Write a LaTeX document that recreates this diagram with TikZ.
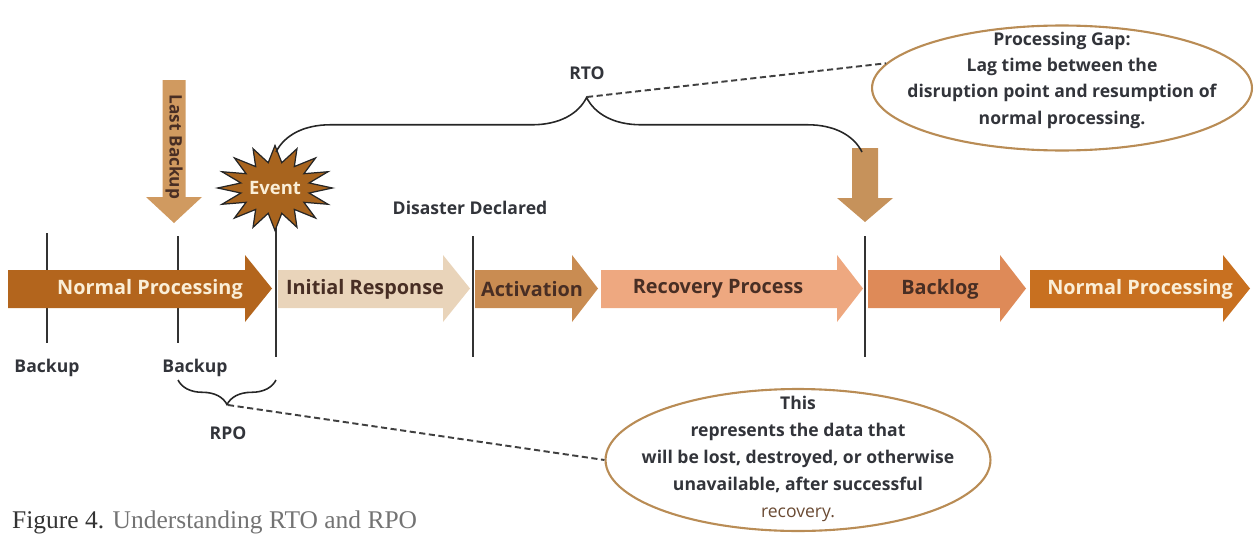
\documentclass[tikz,border=0pt]{standalone}
\usepackage{fontspec}
\setmainfont{Open Sans}
\newfontfamily\capfont{Liberation Serif}
\usetikzlibrary{shapes.geometric, decorations.pathreplacing, positioning}

\definecolor{npbrown}{RGB}{179,101,29}
\definecolor{irtan}{RGB}{233,212,186}
\definecolor{actbrown}{RGB}{201,140,82}
\definecolor{recsalmon}{RGB}{238,168,128}
\definecolor{blgorange}{RGB}{222,138,88}
\definecolor{nptwo}{RGB}{200,112,32}
\definecolor{cream}{RGB}{250,238,215}
\definecolor{darktext}{RGB}{72,46,36}
\definecolor{downtan}{RGB}{208,154,96}
\definecolor{eventbrown}{RGB}{168,100,30}
\definecolor{notering}{RGB}{185,140,85}
\definecolor{labelgray}{RGB}{50,52,58}

\begin{document}
\begin{tikzpicture}[x=0.02cm, y=-0.02cm,
    tick/.style={line width=1pt, black!80},
    phase/.style={font=\bfseries\fontsize{11.3}{13}\selectfont, text=darktext, inner sep=0pt},
    label/.style={font=\bfseries\fontsize{10}{12}\selectfont, text=labelgray, inner sep=1pt},
    ring/.style={ellipse, draw=notering, line width=1.2pt, inner sep=0pt},
    notetext/.style={align=center, font=\bfseries\fontsize{10}{15}\selectfont, text=labelgray},
    leader/.style={dash pattern=on 3.5pt off 2pt, line width=1.1pt, black!75},
    curly/.style={decorate, decoration={brace, amplitude=#1, aspect=0.5}, line width=0.9pt, black!85},
    flag/.style={fill=downtan}]
    \useasboundingbox (0,0) rectangle (1257,534);

    % time marks
    \foreach \n/\x/\a/\z in {ta/47/233/343, tb/178/236/343, tc/276/225/357, td/473/236/357, te/865/236/357} {
        \coordinate (\n top) at (\x,\a);
        \coordinate (\n bot) at (\x,\z);
        \draw[tick] (\n top) -- (\n bot);
    }

    % phases of the timeline
    \foreach \x/\b/\t/\c in {8/245/272/npbrown, 278/443/470/irtan, 475/572/598/actbrown,
                             601/837/863/recsalmon, 868/1000/1026/blgorange, 1030/1223/1250/nptwo}
        \fill[\c] (\x,270) -- (\b,270) -- (\b,255) -- (\t,288.5) -- (\b,322) -- (\b,308) -- (\x,308) -- cycle;

    \node[phase, text=cream] (np) at (150,289) {Normal Processing};
    \node[phase] (ir) at (365,289) {Initial Response};
    \node[phase] (act) at (532,289) {Activation};
    \node[phase] (rec) at (718,289) {Recovery Process};
    \node[phase] (blg) at (940,289) {Backlog};
    \node[phase, text=cream] (npb) at (1140,289) {Normal Processing};

    % down arrows
    \fill[flag] (162.5,80) -- (185.5,80) -- (185.5,197) -- (202,197) -- (174,223) -- (146,197) -- (162.5,197) -- cycle;
    \node[rotate=-90, font=\bfseries\fontsize{9.8}{11}\selectfont, text=darktext] (lastbk) at (174,147) {Last Backup};
    \fill[flag, fill=downtan!95!black] (852,148) -- (878,148) -- (878,198) -- (893,198) -- (865,222) -- (837,198) -- (852,198) -- cycle;

    \node[star, star points=16, star point ratio=1.65, minimum size=1.7cm, inner sep=0pt, xscale=1.35,
          draw=black!85, fill=eventbrown, line width=0.7pt] (burst) at (275,188) {};
    \node[font=\bfseries\fontsize{10.5}{12}\selectfont, text=cream] (event) at (burst.center) {Event};

    \node[label] (dd) at (470,208) {Disaster Declared};
    \node[label] (bka) at (47,368) {Backup};
    \node[label] (bkb) at (195,368) {Backup};
    \node[label] (rto) at (587,73) {RTO};
    \node[label] (rpo) at (228,433) {RPO};

    % braces
    \draw[curly=31pt, decoration={aspect=0.53}] (276,152) -- (862,152);
    \coordinate (rtotip) at (587,97);
    \draw[curly=14pt] (276,380) -- (178,380);
    \coordinate (rpotip) at (228,405);

    % notes
    \node[ring, minimum width=7.6cm, minimum height=2.5cm] (gapring) at (1062,88) {};
    \node[notetext, text depth=0pt] (gaptext) at (1062,78) {Processing Gap:\\Lag time between the\\disruption point and resumption of\\normal processing.};
    \node[ring, minimum width=7.7cm, minimum height=2.84cm] (lossring) at (798,460) {};
    \node[notetext, font=\bfseries\fontsize{10}{15.4}\selectfont] (losstext) at (798,459) {This\\represents the data that\\will be lost, destroyed, or otherwise\\unavailable, after successful\\{\mdseries\color{darktext!70!notering}recovery.}};

    \draw[leader] (rtotip) -- (gapring.172);
    \draw[leader] (rpotip) -- (lossring.west);

    \node[anchor=base west, font=\capfont\fontsize{14.5}{16}\selectfont, text=black!55] (caption) at (6,528)
        {{\color{black!80}Figure 4.} Understanding RTO and RPO};
\end{tikzpicture}
\end{document}
